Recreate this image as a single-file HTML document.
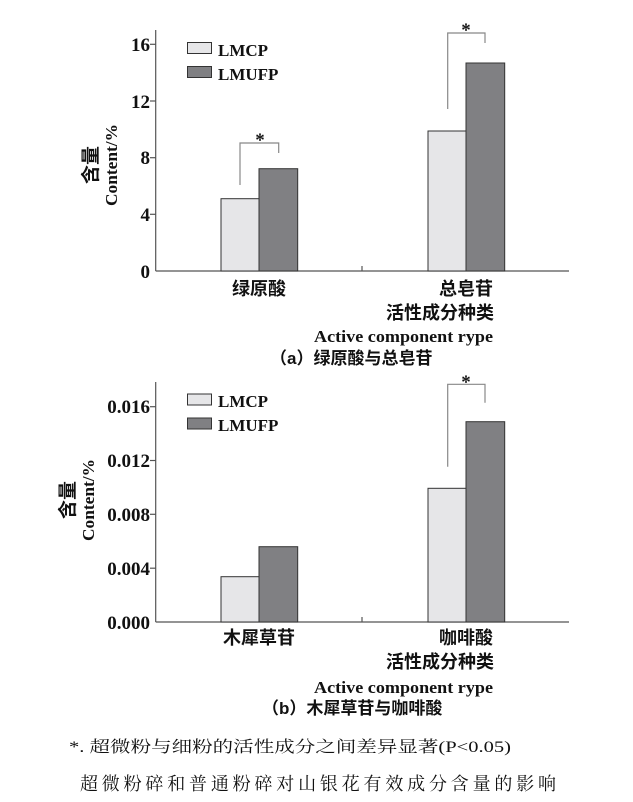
<!DOCTYPE html>
<html><head><meta charset="utf-8"><style>
html,body{margin:0;padding:0;background:#fff;}
svg{display:block;}
text{font-family:"Liberation Serif","Noto Serif CJK SC",serif;fill:#111;}
.t{font-size:19px;font-weight:bold;}
.c{font-size:18px;font-weight:bold;font-family:"Liberation Sans","Noto Sans CJK SC",sans-serif;}
.e{font-size:17px;font-weight:bold;}
</style></head><body>
<svg width="633" height="802" viewBox="0 0 633 802" xmlns="http://www.w3.org/2000/svg">
<!-- Chart A -->
<g stroke="#555" stroke-width="1.2" fill="none">
<line x1="155.7" y1="30" x2="155.7" y2="271"/>
<line x1="155.7" y1="271" x2="569" y2="271"/>
<line x1="362" y1="266" x2="362" y2="271"/>
<line x1="150" y1="44.3" x2="155.7" y2="44.3"/>
<line x1="150" y1="101" x2="155.7" y2="101"/>
<line x1="150" y1="157.7" x2="155.7" y2="157.7"/>
<line x1="150" y1="214.3" x2="155.7" y2="214.3"/>
</g>
<g stroke="#333" stroke-width="1">
<rect x="221" y="198.7" width="38" height="72.3" fill="#e6e6e8"/>
<rect x="259" y="168.7" width="38.7" height="102.3" fill="#808083"/>
<rect x="428" y="131" width="38" height="140" fill="#e6e6e8"/>
<rect x="466" y="63" width="38.7" height="208" fill="#808083"/>
<rect x="187.5" y="42.5" width="24" height="11" fill="#e6e6e8"/>
<rect x="187.5" y="66.5" width="24" height="11" fill="#808083"/>
</g>
<g stroke="#888" stroke-width="1.2" fill="none">
<polyline points="240,185 240,143 278.7,143 278.7,153"/>
<polyline points="447.7,109 447.7,33 485,33 485,43"/>
</g>
<text x="260" y="146" text-anchor="middle" class="t">*</text>
<text x="466" y="36" text-anchor="middle" class="t">*</text>
<g class="t" text-anchor="end">
<text x="150" y="51">16</text>
<text x="150" y="108">12</text>
<text x="150" y="164">8</text>
<text x="150" y="221">4</text>
<text x="150" y="278">0</text>
</g>
<text x="218" y="56" class="e">LMCP</text>
<text x="218" y="80" class="e">LMUFP</text>
<text transform="translate(97,165) rotate(-90)" text-anchor="middle" class="c" style="font-size:19px">含量</text>
<text transform="translate(117,165) rotate(-90)" text-anchor="middle" class="e" textLength="82" lengthAdjust="spacingAndGlyphs">Content/%</text>
<text x="259" y="295" text-anchor="middle" class="c">绿原酸</text>
<text x="466" y="295" text-anchor="middle" class="c">总皂苷</text>
<text x="494" y="319" text-anchor="end" class="c">活性成分种类</text>
<text x="493" y="342" text-anchor="end" class="e" textLength="179" lengthAdjust="spacingAndGlyphs">Active component rype</text>
<text x="270" y="364" class="c" style="font-size:17px">（a）绿原酸与总皂苷</text>

<!-- Chart B -->
<g stroke="#555" stroke-width="1.2" fill="none">
<line x1="155.7" y1="382" x2="155.7" y2="622"/>
<line x1="155.7" y1="622" x2="569" y2="622"/>
<line x1="362" y1="617" x2="362" y2="622"/>
<line x1="150" y1="406.7" x2="155.7" y2="406.7"/>
<line x1="150" y1="460.5" x2="155.7" y2="460.5"/>
<line x1="150" y1="514.3" x2="155.7" y2="514.3"/>
<line x1="150" y1="568.2" x2="155.7" y2="568.2"/>
</g>
<g stroke="#333" stroke-width="1">
<rect x="221" y="576.7" width="38" height="45.3" fill="#e6e6e8"/>
<rect x="259" y="546.7" width="38.7" height="75.3" fill="#808083"/>
<rect x="428" y="488.3" width="38" height="133.7" fill="#e6e6e8"/>
<rect x="466" y="421.7" width="38.7" height="200.3" fill="#808083"/>
<rect x="187.5" y="394" width="24" height="11" fill="#e6e6e8"/>
<rect x="187.5" y="418" width="24" height="11" fill="#808083"/>
</g>
<g stroke="#888" stroke-width="1.2" fill="none">
<polyline points="447.7,466.7 447.7,384.3 485,384.3 485,402.7"/>
</g>
<text x="466" y="388" text-anchor="middle" class="t">*</text>
<g class="t" text-anchor="end">
<text x="150" y="413">0.016</text>
<text x="150" y="467">0.012</text>
<text x="150" y="521">0.008</text>
<text x="150" y="575">0.004</text>
<text x="150" y="629">0.000</text>
</g>
<text x="218" y="407" class="e">LMCP</text>
<text x="218" y="431" class="e">LMUFP</text>
<text transform="translate(74,500) rotate(-90)" text-anchor="middle" class="c" style="font-size:19px">含量</text>
<text transform="translate(94,500) rotate(-90)" text-anchor="middle" class="e" textLength="82" lengthAdjust="spacingAndGlyphs">Content/%</text>
<text x="259" y="644" text-anchor="middle" class="c">木犀草苷</text>
<text x="466" y="644" text-anchor="middle" class="c">咖啡酸</text>
<text x="494" y="668" text-anchor="end" class="c">活性成分种类</text>
<text x="493" y="693" text-anchor="end" class="e" textLength="179" lengthAdjust="spacingAndGlyphs">Active component rype</text>
<text x="262" y="714" class="c" style="font-size:17px">（b）木犀草苷与咖啡酸</text>

<text x="69" y="752" style="font-size:16px" textLength="442" lengthAdjust="spacingAndGlyphs">*. 超微粉与细粉的活性成分之间差异显著(P&lt;0.05)</text>
<text x="80" y="790" style="font-size:18px" textLength="476" lengthAdjust="spacing">超微粉碎和普通粉碎对山银花有效成分含量的影响</text>
</svg>
</body></html>
